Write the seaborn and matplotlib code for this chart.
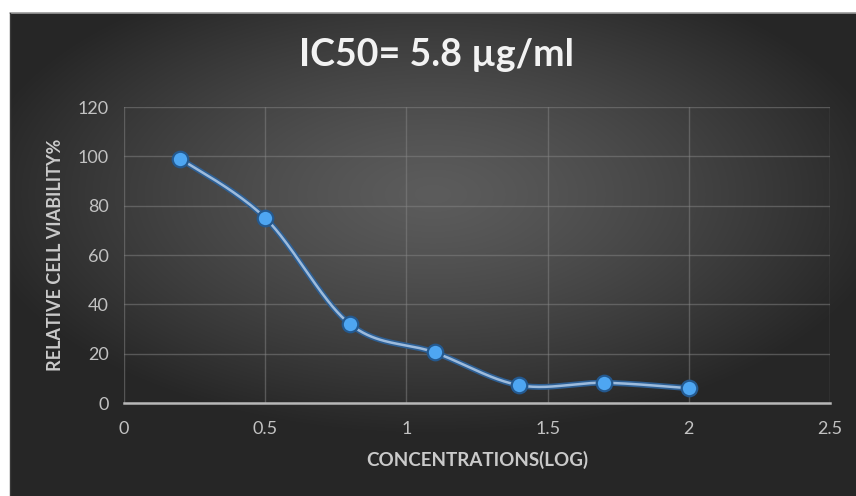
import numpy as np
import pandas as pd
import matplotlib
matplotlib.use("Agg")
import matplotlib.pyplot as plt
import matplotlib.patheffects as pe
import seaborn as sns

# Dose-response data
conc_log = [0.2, 0.5, 0.8, 1.1, 1.4, 1.7, 2.0]
viability = [99, 75, 32, 20.5, 7.2, 8.2, 6.0]
x_ticks = [0, 0.5, 1, 1.5, 2, 2.5]
x_tick_labels = ["0", "0.5", "1", "1.5", "2", "2.5"]
y_ticks = [0, 20, 40, 60, 80, 100, 120]
title_text = "IC50= 5.8 µg/ml"
x_label = "CONCENTRATIONS(LOG)"
y_label = "RELATIVE CELL VIABILITY%"

sns.set_theme(style="dark")
plt.rcParams["font.family"] = ["Lato", "DejaVu Sans"]


def smooth_path(xs, ys, n=40):
    """Cubic Bezier smoothing through every point (spreadsheet-style smoothed line)."""
    p = np.column_stack([xs, ys]).astype(float)
    pts = [p[0]]
    for i in range(len(p) - 1):
        p0 = p[i - 1] if i > 0 else p[i]
        p1, p2 = p[i], p[i + 1]
        p3 = p[i + 2] if i + 2 < len(p) else p[i + 1]
        c1 = p1 + (p2 - p0) / 6.0
        c2 = p2 - (p3 - p1) / 6.0
        t = np.linspace(0, 1, n)[1:, None]
        seg = ((1 - t) ** 3) * p1 + 3 * ((1 - t) ** 2) * t * c1 + 3 * (1 - t) * t ** 2 * c2 + t ** 3 * p2
        pts.extend(seg)
    pts = np.array(pts)
    return pts[:, 0], pts[:, 1]


W, H = 856, 496
fig = plt.figure(figsize=(W / 100, H / 100), dpi=100)
fig.patch.set_facecolor("white")

# Dark radial-gradient panel behind the chart
bg = fig.add_axes([10 / W, 0, 1 - 10 / W, 1 - 13 / H])
bg.set_axis_off()
gx, gy = np.meshgrid(np.linspace(-1, 1, 400), np.linspace(-1, 1, 240))
r = np.sqrt(((gx - 0.0) / 1.1) ** 2 + ((gy + 0.25) / 1.0) ** 2)
r = np.clip(r, 0, 1)
shade = 0.36 - 0.21 * r ** 1.3
bg.imshow(np.dstack([shade, shade, shade]), aspect="auto", extent=[0, 1, 0, 1],
          interpolation="bilinear")
bg.plot([0, 1], [1, 1], color="#9a9a9a", lw=1.2, transform=bg.transAxes, clip_on=False)
bg.plot([0, 0], [0, 1], color="#3a3a3a", lw=1.0, transform=bg.transAxes, clip_on=False)

ax = fig.add_axes([124 / W, 1 - 403 / H, (830 - 124) / W, (403 - 107) / H])
ax.patch.set_alpha(0)

sx, sy = smooth_path(conc_log, viability)
curve = pd.DataFrame({"x": sx, "y": sy})
pts = pd.DataFrame({"x": conc_log, "y": viability})

sns.lineplot(data=curve, x="x", y="y", sort=False, ax=ax, color="#9dbbdc", lw=1.8,
             zorder=3,
             path_effects=[pe.Stroke(linewidth=4.2, foreground="#2d5f94"), pe.Normal()])
sns.scatterplot(data=pts, x="x", y="y", ax=ax, s=125, color="#4ea6f2",
                edgecolor="#24598f", linewidth=1.6, zorder=4)

ax.set_xlim(0, 2.5)
ax.set_ylim(0, 120)
ax.set_xticks(x_ticks)
ax.set_xticklabels(x_tick_labels)
ax.set_yticks(y_ticks)
ax.grid(True, color="#858585", alpha=0.5, lw=1.0)
ax.tick_params(axis="both", length=0, colors="#c2c2c2", labelsize=13)
ax.tick_params(axis="x", pad=13)
ax.tick_params(axis="y", pad=11)
for s in ["top", "right", "left"]:
    ax.spines[s].set_visible(False)
ax.spines["bottom"].set_visible(True)
ax.spines["bottom"].set_color("#b8b8b8")
ax.spines["bottom"].set_linewidth(1.8)

ax.set_xlabel(x_label, fontsize=13.5, fontweight="bold", color="#cacaca", labelpad=10)
ax.set_ylabel(y_label, fontsize=13, fontweight="bold", color="#cacaca", labelpad=10)

fig.text(437 / W, 1 - 55 / H, title_text, ha="center", va="center", fontsize=27,
         fontweight="bold", color="#f2f2f2")

fig.savefig("out.png", dpi=100, facecolor=fig.get_facecolor())
